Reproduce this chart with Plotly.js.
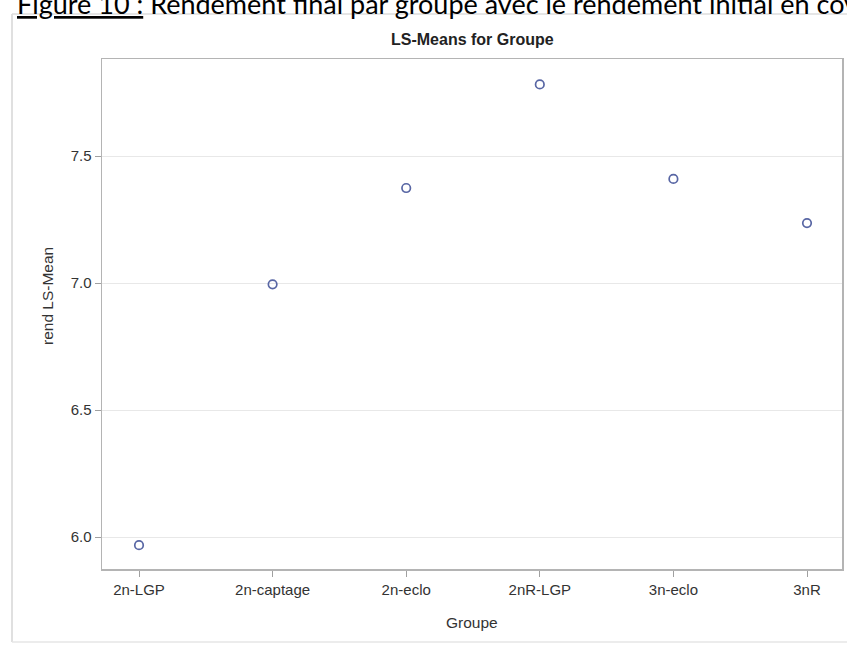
<!DOCTYPE html>
<html>
<head>
<meta charset="utf-8">
<script src="https://cdn.plot.ly/plotly-3.0.1.min.js"></script>
<style>html,body{margin:0;padding:0;background:#fff;}#chart{width:847px;height:646px;}</style>
</head>
<body>
<div id="chart"></div>
<script>
const groups = ["2n-LGP", "2n-captage", "2n-eclo", "2nR-LGP", "3n-eclo", "3nR"];
const lsMeans = [5.968, 6.995, 7.374, 7.782, 7.41, 7.236];
const yTicks = [6.0, 6.5, 7.0, 7.5];
const yTickLabels = ["6.0", "6.5", "7.0", "7.5"];

const L = 102, R = 5, T = 59, B = 77, W = 847, H = 646;
const pw = W - L - R, ph = H - T - B;
const px = v => (v - L) / pw;
const py = v => (H - B - v) / ph;
const font = "Liberation Sans, Arial, sans-serif";

const trace = {
  x: groups,
  y: lsMeans,
  type: "scatter",
  mode: "markers",
  marker: {symbol: "circle-open", size: 8.5, color: "#5866a4", line: {width: 1.7, color: "#5866a4"}},
  hoverinfo: "x+y"
};

const layout = {
  width: W, height: H,
  margin: {l: L, r: R, t: T, b: B, pad: 0},
  paper_bgcolor: "#ffffff",
  plot_bgcolor: "#ffffff",
  showlegend: false,
  font: {family: font, color: "#333333", size: 15},
  xaxis: {
    type: "category",
    range: [-0.277, 5.262],
    showgrid: false,
    zeroline: false,
    showline: true, mirror: true, linecolor: "#b4b4b4", linewidth: 1.5,
    ticks: "outside", ticklen: 6, tickcolor: "#a0a0a0", tickwidth: 1,
    tickfont: {family: font, size: 15, color: "#333333"},
    fixedrange: true
  },
  yaxis: {
    range: [5.874, 7.882],
    tickvals: yTicks,
    ticktext: yTickLabels,
    showgrid: true, gridcolor: "#e8e8e8", gridwidth: 1,
    zeroline: false,
    showline: true, mirror: true, linecolor: "#b4b4b4", linewidth: 1.5,
    ticks: "outside", ticklen: 6, tickcolor: "#a0a0a0", tickwidth: 1,
    tickfont: {family: font, size: 15, color: "#333333"},
    fixedrange: true
  },
  shapes: [
    {type: "line", xref: "paper", yref: "paper", x0: px(12), x1: px(12), y0: py(14), y1: py(642), line: {color: "#d6d6d6", width: 1.5}},
    {type: "line", xref: "paper", yref: "paper", x0: px(12), x1: px(850), y0: py(14), y1: py(14), line: {color: "#dcdcdc", width: 1.5}},
    {type: "line", xref: "paper", yref: "paper", x0: px(12), x1: px(850), y0: py(642), y1: py(642), line: {color: "#e6e6e6", width: 1.5}}
  ],
  annotations: [
    {text: "<b>LS-Means for Groupe</b>", xref: "paper", yref: "paper", x: 0.5, y: py(40), xanchor: "center", yanchor: "middle", showarrow: false, font: {family: font, size: 16, color: "#222222"}},
    {text: "Groupe", xref: "paper", yref: "paper", x: px(472), y: py(622), xanchor: "center", yanchor: "middle", showarrow: false, font: {family: font, size: 15.5, color: "#333333"}},
    {text: "rend LS-Mean", xref: "paper", yref: "paper", x: px(47), y: py(296), xanchor: "center", yanchor: "middle", textangle: -90, showarrow: false, font: {family: font, size: 15.5, color: "#333333"}},
    {text: "<u>Figure 10 :</u> Rendement final par groupe avec le rendement initial en covariable", xref: "paper", yref: "paper", x: px(15), y: py(22), xanchor: "left", yanchor: "bottom", showarrow: false, font: {family: "Lato, Open Sans, sans-serif", size: 27, color: "#000000"}}
  ]
};

Plotly.newPlot("chart", [trace], layout, {displayModeBar: false, staticPlot: true});
</script>
</body>
</html>
